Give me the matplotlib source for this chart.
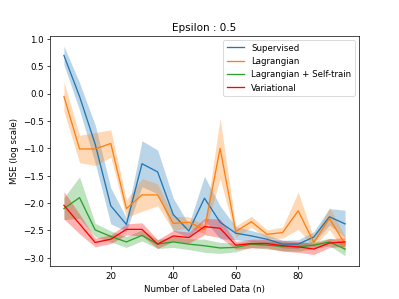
import matplotlib
matplotlib.use('Agg')
import matplotlib.pyplot as plt
import numpy as np

# Number of labeled data points on the x axis
n_labeled = [5, 10, 15, 20, 25, 30, 35, 40, 45, 50, 55, 60, 65, 70, 75, 80, 85, 90, 95]

# Mean log MSE and its spread for each method
supervised_mean = [0.70, -0.05, -0.92, -2.05, -2.39, -1.28, -1.43, -2.21, -2.51, -1.91, -2.35,
                   -2.55, -2.60, -2.66, -2.75, -2.75, -2.62, -2.25, -2.38]
supervised_std = [0.17, 0.25, 0.35, 0.33, 0.12, 0.42, 0.40, 0.30, 0.12, 0.40, 0.30,
                  0.12, 0.10, 0.08, 0.07, 0.08, 0.10, 0.15, 0.25]

lagrangian_mean = [-0.05, -1.01, -1.01, -0.91, -2.10, -1.85, -1.85, -2.37, -2.35, -2.48, -1.00,
                   -2.52, -2.34, -2.57, -2.54, -2.14, -2.72, -2.28, -2.75]
lagrangian_std = [0.27, 0.25, 0.30, 0.25, 0.16, 0.30, 0.20, 0.13, 0.10, 0.08, 0.55,
                  0.10, 0.10, 0.08, 0.10, 0.34, 0.08, 0.20, 0.15]

self_train_mean = [-2.10, -1.90, -2.49, -2.61, -2.71, -2.59, -2.75, -2.71, -2.75, -2.78, -2.82,
                   -2.81, -2.75, -2.77, -2.79, -2.80, -2.77, -2.71, -2.84]
self_train_std = [0.20, 0.38, 0.12, 0.10, 0.10, 0.10, 0.08, 0.10, 0.10, 0.12, 0.10,
                  0.08, 0.06, 0.07, 0.08, 0.08, 0.06, 0.07, 0.12]

variational_mean = [-2.04, -2.38, -2.72, -2.66, -2.48, -2.48, -2.75, -2.60, -2.63, -2.43, -2.46,
                    -2.77, -2.74, -2.74, -2.78, -2.80, -2.84, -2.73, -2.71]
variational_std = [0.25, 0.18, 0.08, 0.08, 0.10, 0.12, 0.08, 0.10, 0.10, 0.15, 0.17,
                   0.07, 0.08, 0.08, 0.10, 0.10, 0.10, 0.08, 0.08]

series = [
    ('Supervised', supervised_mean, supervised_std, 'tab:blue'),
    ('Lagrangian', lagrangian_mean, lagrangian_std, 'tab:orange'),
    ('Lagrangian + Self-train', self_train_mean, self_train_std, 'tab:green'),
    ('Variational', variational_mean, variational_std, 'red'),
]

# default 6.4x4.8 figure, rendered small
fig, ax = plt.subplots(figsize=(6.4, 4.8), dpi=399 / 6.4)
x = np.array(n_labeled)
for label, mean, std, color in series:
    mean = np.array(mean)
    std = np.array(std)
    ax.plot(x, mean, color=color, label=label)
    ax.fill_between(x, mean - std, mean + std, color=color, alpha=0.3, linewidth=0)

ax.legend(loc='upper right')
ax.set_title('Epsilon : 0.5')
ax.set_xlabel('Number of Labeled Data (n)')
ax.set_ylabel('MSE (log scale)')
plt.savefig('out.png')
plt.close()
